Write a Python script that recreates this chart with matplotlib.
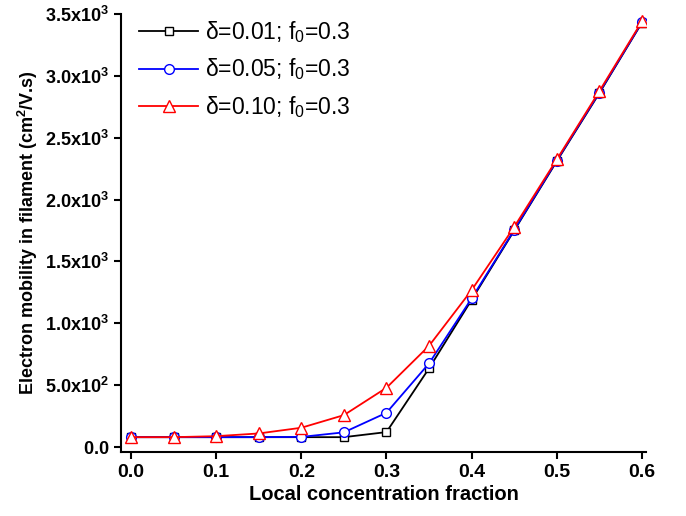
import numpy as np
import matplotlib.pyplot as plt
from matplotlib.ticker import FuncFormatter

x = [0.0, 0.05, 0.1, 0.15, 0.2, 0.25, 0.3, 0.35, 0.4, 0.45, 0.5, 0.55, 0.6]
mu_001 = [80, 80, 80, 80, 80, 80, 121, 636, 1190, 1750, 2310, 2860, 3430]
mu_005 = [80, 80, 80, 80, 82, 119, 277, 676, 1201, 1755, 2315, 2865, 3432]
mu_010 = [80, 80, 88, 110, 156, 258, 479, 818, 1268, 1779, 2324, 2876, 3440]
labels = ['δ=0.01; f$_0$=0.3', 'δ=0.05; f$_0$=0.3', 'δ=0.10; f$_0$=0.3']

plt.rcParams['font.family'] = ['Liberation Sans', 'DejaVu Sans']
plt.rcParams['mathtext.fontset'] = 'custom'
plt.rcParams['mathtext.rm'] = 'Liberation Sans'
plt.rcParams['mathtext.bf'] = 'Liberation Sans:bold'

fig, ax = plt.subplots(figsize=(6.86, 5.16), dpi=100)
fig.subplots_adjust(left=0.176, right=0.942, top=0.973, bottom=0.124)

ax.plot(x, mu_001, color='black', marker='s', mfc='white', ms=6, lw=1.3, label=labels[0])
ax.plot(x, mu_005, color='blue', marker='o', mfc='white', ms=7, lw=1.3, label=labels[1])
ax.plot(x, mu_010, color='red', marker='^', mfc='white', ms=8, lw=1.3, label=labels[2])

ax.set_xlim(-0.012, 0.605)
ax.set_ylim(-40, 3500)
ax.set_xticks([0.0, 0.1, 0.2, 0.3, 0.4, 0.5, 0.6])
ax.set_yticks(np.arange(0, 3501, 500))

def yfmt(v, pos):
    if v == 0:
        return r'$\mathbf{0.0}$'
    e = int(np.floor(np.log10(v)))
    m = v / 10 ** e
    return r'$\mathbf{%.1fx10^{%d}}$' % (m, e)

ax.yaxis.set_major_formatter(FuncFormatter(yfmt))
ax.xaxis.set_major_formatter(FuncFormatter(lambda v, p: '%.1f' % v))

for s in ['top', 'right']:
    ax.spines[s].set_visible(False)
for s in ['left', 'bottom']:
    ax.spines[s].set_linewidth(1.5)
ax.tick_params(direction='out', width=1.5, length=5, labelsize=13)
ax.tick_params(axis='x', labelsize=14)
for t in ax.get_xticklabels():
    t.set_fontweight('bold')

ax.set_xlabel('Local concentration fraction', fontsize=14.5, fontweight='bold', labelpad=3)
ax.set_ylabel(r'Electron mobility in filament (cm$^\mathbf{2}$/V.s)', fontsize=13, fontweight='bold')

ax.legend(loc='upper left', bbox_to_anchor=(-0.005, 1.035), frameon=False, fontsize=16.5,
          handlelength=2.6, labelspacing=0.5, handletextpad=0.3)

plt.savefig('out.png', dpi=100)
